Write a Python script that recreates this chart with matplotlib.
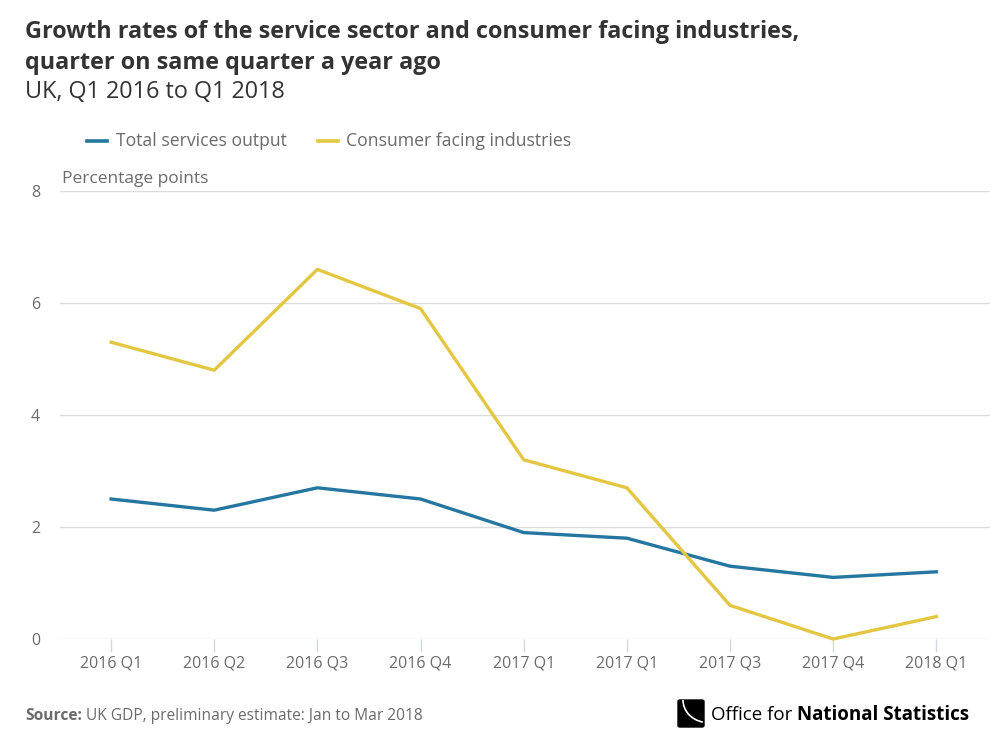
import matplotlib.pyplot as plt
import matplotlib.patches as mpatches
import numpy as np

plt.rcParams['font.family'] = ['Open Sans', 'DejaVu Sans']

quarters = ["2016 Q1", "2016 Q2", "2016 Q3", "2016 Q4", "2017 Q1",
            "2017 Q1", "2017 Q3", "2017 Q4", "2018 Q1"]
services = [2.5, 2.3, 2.7, 2.5, 1.9, 1.8, 1.3, 1.1, 1.2]
consumer = [5.3, 4.8, 6.6, 5.9, 3.2, 2.7, 0.6, 0.0, 0.4]

blue = "#2576a0"
yellow = "#e3c641"
grey = "#6b6b6b"
grid = "#dcdcdc"

fig = plt.figure(figsize=(10, 7.52), dpi=100)
ax = fig.add_axes([0.06, 1 - 639 / 752, 0.93, (639 - 191) / 752])

x = np.arange(len(quarters))
ax.plot(x, services, color=blue, lw=2.4, clip_on=False, zorder=3)
ax.plot(x, consumer, color=yellow, lw=2.4, clip_on=False, zorder=3)

ax.set_xlim(-0.495, 8.52)
ax.set_ylim(0, 8)
ax.set_yticks([0, 2, 4, 6, 8])
ax.set_xticks(x)
ax.set_xticklabels(quarters)
ax.grid(axis="y", color=grid, lw=1)
ax.set_axisbelow(True)
for s in ax.spines.values():
    s.set_visible(False)
ax.tick_params(axis="y", length=0, labelsize=11.5, labelcolor=grey, pad=21)
ax.tick_params(axis="x", length=9, width=1, color="#d0d8e0", labelsize=11.5,
               labelcolor=grey, pad=3)
for lab in ax.get_yticklabels():
    lab.set_horizontalalignment("left")

fig.text(0.062, 1 - 179 / 752, "Percentage points", fontsize=12.5, color=grey,
         va="center")

# legend
fig.add_artist(plt.Line2D([0.087, 0.107], [1 - 141 / 752] * 2, color=blue, lw=2.6))
fig.text(0.116, 1 - 141 / 752, "Total services output", fontsize=12.7, color=grey, va="center")
fig.add_artist(plt.Line2D([0.318, 0.338], [1 - 141 / 752] * 2, color=yellow, lw=2.6))
fig.text(0.346, 1 - 141 / 752, "Consumer facing industries", fontsize=12.7, color=grey, va="center")

# titles
fig.text(0.025, 1 - 32 / 752, "Growth rates of the service sector and consumer facing industries,",
         fontsize=16.8, fontweight="bold", color="#333333", va="center")
fig.text(0.025, 1 - 63 / 752, "quarter on same quarter a year ago",
         fontsize=16.8, fontweight="bold", color="#333333", va="center")
fig.text(0.025, 1 - 92 / 752, "UK, Q1 2016 to Q1 2018", fontsize=16.8, color="#333333", va="center")

# source
r = fig.canvas.get_renderer()
t = fig.text(0.025, 1 - 716 / 752, "Source:", fontsize=11.2, fontweight="bold", color=grey, va="center")
bb = t.get_window_extent(r)
fig.text((bb.x1 + 4) / 1000, 1 - 716 / 752, "UK GDP, preliminary estimate: Jan to Mar 2018",
         fontsize=11.2, color=grey, va="center")

# logo
fig.add_artist(mpatches.FancyBboxPatch((0.678, 1 - 727 / 752), 0.026, 27 / 752,
                                       boxstyle="round,pad=0,rounding_size=0.002",
                                       transform=fig.transFigure, color="black"))
fig.add_artist(mpatches.Arc((0.708, 1 - 700 / 752), 0.05, 0.06, theta1=180, theta2=260,
                            transform=fig.transFigure, color="white", lw=1.2))
t2 = fig.text(0.711, 1 - 715 / 752, "Office for", fontsize=13.5, color="black", va="center")
bb2 = t2.get_window_extent(r)
fig.text((bb2.x1 + 5) / 1000, 1 - 715 / 752, "National Statistics", fontsize=13.5,
         fontweight="bold", color="black", va="center")

fig.savefig("out.png", dpi=100, facecolor="white")
